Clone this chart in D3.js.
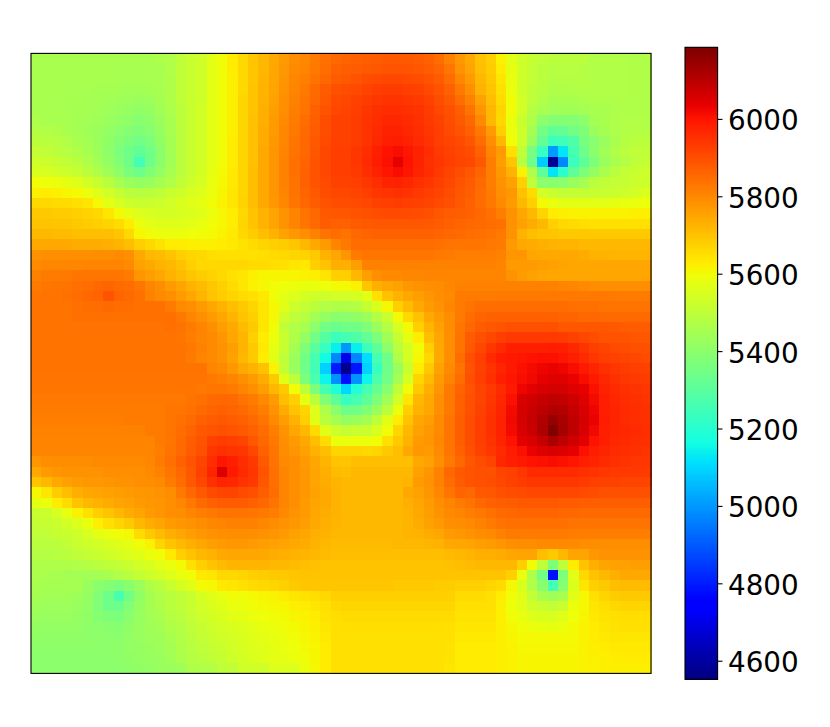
<!DOCTYPE html>
<html><head><meta charset="utf-8">
<script src="https://cdn.jsdelivr.net/npm/d3@7/dist/d3.min.js"></script>
<style>html,body{margin:0;padding:0;background:#fff}svg{display:block}</style>
</head><body><svg id="c" width="830" height="727"></svg>
<script>
const valueRange = [4552, 6185];
const colorbarTicks = [4600, 4800, 5000, 5200, 5400, 5600, 5800, 6000];
// Values, one row per image row (top to bottom), 60 columns each
const heat = [
[5460,5460,5460,5460,5460,5460,5460,5460,5460,5460,5460,5460,5465,5475,5500,5520,5535,5575,5600,5630,5665,5695,5720,5745,5770,5795,5805,5825,5845,5860,5865,5870,5875,5880,5885,5885,5885,5880,5870,5850,5815,5775,5745,5705,5680,5620,5575,5535,5515,5500,5490,5490,5490,5490,5475,5475,5475,5475,5470,5470],
[5460,5460,5460,5460,5460,5460,5460,5460,5460,5460,5460,5460,5460,5475,5500,5520,5535,5575,5600,5630,5665,5695,5720,5750,5775,5800,5810,5830,5850,5870,5875,5880,5885,5890,5895,5895,5895,5890,5880,5865,5835,5785,5755,5710,5685,5630,5580,5535,5510,5495,5485,5485,5485,5480,5475,5475,5475,5475,5470,5470],
[5460,5460,5460,5460,5460,5460,5460,5460,5455,5455,5455,5455,5460,5470,5500,5520,5535,5575,5600,5625,5665,5695,5725,5750,5780,5805,5820,5840,5860,5880,5885,5895,5905,5910,5915,5915,5910,5905,5895,5880,5850,5805,5770,5720,5690,5640,5585,5535,5510,5490,5480,5480,5480,5480,5475,5475,5475,5475,5470,5470],
[5460,5460,5460,5460,5455,5455,5450,5450,5450,5445,5445,5450,5455,5470,5500,5520,5535,5575,5600,5625,5665,5700,5730,5755,5785,5810,5830,5855,5880,5900,5905,5910,5920,5930,5935,5935,5930,5925,5910,5895,5870,5830,5790,5730,5700,5650,5590,5535,5505,5485,5470,5470,5475,5475,5475,5475,5475,5475,5470,5470],
[5460,5460,5460,5455,5455,5450,5450,5445,5440,5435,5430,5435,5450,5470,5500,5520,5535,5575,5600,5625,5670,5700,5730,5760,5790,5815,5835,5860,5885,5910,5915,5925,5935,5945,5950,5950,5945,5940,5925,5905,5885,5850,5815,5760,5710,5660,5600,5540,5500,5475,5460,5460,5460,5465,5470,5470,5470,5470,5470,5470],
[5460,5460,5460,5455,5450,5450,5445,5435,5430,5420,5410,5420,5440,5465,5495,5520,5540,5575,5600,5625,5670,5700,5735,5765,5795,5820,5840,5870,5895,5915,5920,5930,5945,5955,5960,5960,5955,5950,5935,5915,5900,5875,5840,5780,5720,5670,5600,5540,5480,5460,5445,5440,5440,5450,5455,5460,5465,5470,5470,5470],
[5465,5460,5460,5455,5450,5445,5440,5430,5420,5405,5390,5405,5430,5460,5495,5520,5540,5575,5600,5625,5670,5705,5735,5770,5800,5825,5850,5875,5905,5925,5925,5935,5950,5960,5970,5970,5965,5955,5940,5925,5905,5885,5860,5800,5720,5665,5590,5520,5470,5400,5385,5385,5385,5400,5450,5460,5470,5475,5475,5475],
[5480,5475,5470,5460,5450,5440,5430,5415,5400,5385,5375,5390,5420,5455,5490,5520,5540,5575,5600,5625,5670,5705,5740,5770,5805,5830,5855,5880,5905,5925,5925,5935,5950,5965,5980,5980,5970,5960,5945,5930,5910,5895,5870,5830,5770,5680,5590,5530,5450,5350,5310,5320,5350,5375,5430,5450,5465,5475,5480,5480],
[5495,5490,5485,5475,5460,5450,5430,5410,5385,5365,5350,5370,5410,5450,5490,5520,5540,5575,5600,5630,5670,5705,5740,5775,5805,5835,5860,5885,5910,5925,5925,5935,5950,5970,5985,5990,5980,5965,5950,5930,5920,5910,5890,5850,5790,5720,5600,5530,5430,5320,5240,5250,5280,5360,5390,5430,5460,5480,5490,5495],
[5510,5505,5495,5485,5470,5455,5435,5405,5370,5340,5315,5345,5395,5445,5490,5520,5540,5575,5600,5630,5670,5705,5745,5780,5810,5840,5860,5890,5915,5930,5930,5945,5960,5985,6005,6015,6000,5980,5960,5940,5925,5915,5905,5870,5810,5770,5650,5500,5360,5230,5005,5125,5260,5340,5400,5440,5470,5490,5500,5500],
[5530,5525,5515,5505,5490,5470,5445,5415,5380,5340,5255,5340,5395,5445,5490,5520,5540,5575,5600,5630,5670,5705,5745,5780,5815,5845,5865,5895,5915,5930,5930,5945,5965,5990,6010,6040,6005,5980,5955,5945,5930,5920,5915,5885,5820,5765,5695,5490,5340,5085,4580,4975,5240,5310,5370,5430,5460,5480,5500,5510],
[5555,5550,5540,5530,5515,5495,5470,5440,5405,5365,5340,5375,5415,5455,5490,5520,5545,5580,5605,5635,5670,5710,5745,5780,5815,5845,5870,5895,5915,5930,5930,5940,5960,5980,6000,6015,6000,5975,5960,5940,5920,5905,5890,5865,5820,5775,5730,5620,5470,5310,5125,5210,5310,5370,5420,5460,5490,5510,5520,5530],
[5600,5595,5590,5580,5565,5545,5520,5490,5455,5430,5420,5430,5450,5475,5505,5530,5550,5585,5610,5635,5670,5710,5745,5780,5815,5840,5870,5895,5910,5925,5925,5930,5945,5960,5975,5980,5970,5955,5945,5930,5915,5895,5880,5855,5820,5785,5760,5680,5500,5400,5395,5400,5430,5450,5490,5505,5510,5515,5525,5530],
[5625,5630,5625,5615,5605,5590,5565,5540,5515,5495,5485,5490,5500,5520,5535,5550,5565,5590,5615,5640,5670,5710,5745,5780,5810,5840,5865,5885,5905,5915,5915,5920,5930,5945,5950,5955,5950,5940,5930,5920,5905,5890,5875,5850,5825,5790,5775,5705,5660,5540,5520,5510,5510,5510,5515,5520,5525,5530,5545,5560],
[5665,5665,5660,5660,5650,5640,5610,5575,5550,5530,5525,5525,5530,5540,5555,5565,5580,5600,5620,5640,5675,5710,5745,5775,5805,5835,5860,5880,5895,5905,5905,5910,5915,5925,5930,5935,5930,5925,5920,5910,5900,5885,5870,5850,5830,5800,5770,5720,5680,5605,5585,5575,5575,5575,5575,5575,5580,5585,5590,5595],
[5690,5690,5685,5685,5680,5675,5665,5640,5605,5580,5560,5550,5545,5545,5550,5555,5570,5590,5610,5630,5665,5700,5730,5755,5785,5810,5840,5860,5885,5890,5890,5895,5900,5905,5910,5910,5910,5905,5900,5890,5880,5875,5870,5860,5845,5820,5785,5750,5720,5670,5630,5625,5620,5620,5620,5620,5620,5620,5625,5625],
[5700,5700,5695,5695,5690,5685,5680,5670,5660,5630,5590,5575,5570,5565,5565,5575,5585,5600,5610,5630,5670,5700,5730,5755,5785,5810,5835,5855,5880,5870,5870,5880,5885,5890,5890,5890,5890,5890,5885,5880,5870,5865,5860,5855,5850,5845,5785,5760,5740,5720,5680,5665,5660,5655,5650,5650,5650,5650,5650,5650],
[5720,5720,5715,5715,5710,5710,5710,5710,5695,5665,5610,5600,5590,5590,5590,5595,5600,5605,5620,5635,5665,5685,5710,5730,5760,5775,5790,5815,5840,5850,5840,5860,5865,5870,5870,5870,5870,5870,5870,5865,5860,5855,5850,5845,5840,5830,5785,5730,5710,5700,5695,5690,5690,5690,5690,5690,5690,5690,5690,5690],
[5745,5745,5745,5745,5740,5740,5740,5735,5725,5710,5680,5665,5645,5630,5630,5625,5625,5625,5630,5635,5645,5660,5670,5680,5685,5695,5720,5745,5770,5810,5830,5850,5850,5850,5850,5850,5850,5850,5850,5845,5840,5835,5835,5835,5830,5825,5770,5745,5740,5735,5730,5725,5725,5720,5720,5720,5720,5720,5720,5720],
[5785,5790,5790,5790,5790,5790,5795,5795,5800,5790,5745,5720,5715,5700,5680,5670,5665,5655,5650,5650,5650,5650,5655,5660,5665,5670,5675,5690,5730,5750,5780,5825,5835,5835,5835,5835,5835,5835,5835,5830,5825,5820,5820,5820,5820,5815,5780,5780,5750,5745,5745,5745,5745,5740,5730,5730,5725,5725,5725,5725],
[5800,5805,5805,5805,5805,5810,5810,5810,5810,5800,5760,5745,5730,5720,5705,5680,5665,5665,5665,5665,5665,5660,5660,5655,5650,5640,5635,5680,5700,5735,5735,5765,5815,5815,5815,5815,5815,5815,5815,5815,5815,5815,5815,5815,5815,5810,5770,5770,5770,5765,5760,5755,5750,5750,5750,5750,5750,5750,5750,5750],
[5815,5825,5825,5830,5835,5835,5835,5835,5835,5825,5780,5765,5750,5730,5715,5695,5685,5675,5665,5650,5640,5625,5615,5615,5615,5615,5620,5625,5640,5680,5680,5720,5765,5790,5800,5800,5805,5805,5810,5810,5810,5810,5810,5810,5810,5810,5785,5770,5760,5755,5750,5750,5750,5750,5750,5750,5750,5750,5750,5750],
[5825,5835,5840,5840,5845,5850,5860,5865,5855,5850,5835,5810,5795,5770,5755,5730,5715,5695,5680,5660,5640,5620,5610,5600,5595,5590,5585,5585,5595,5605,5605,5620,5695,5735,5750,5760,5775,5785,5790,5795,5805,5815,5815,5815,5815,5815,5815,5815,5815,5815,5815,5810,5805,5800,5795,5790,5790,5790,5790,5790],
[5835,5840,5840,5845,5850,5860,5865,5895,5865,5855,5845,5815,5800,5790,5770,5750,5725,5700,5685,5670,5660,5650,5635,5600,5575,5560,5545,5535,5530,5540,5540,5545,5575,5650,5705,5730,5750,5765,5780,5790,5800,5825,5825,5825,5825,5830,5830,5830,5830,5830,5830,5830,5830,5830,5830,5830,5825,5825,5825,5825],
[5840,5840,5840,5840,5845,5850,5850,5855,5850,5850,5845,5845,5845,5825,5800,5790,5770,5750,5730,5710,5690,5670,5640,5610,5570,5530,5510,5495,5475,5470,5470,5480,5515,5555,5610,5680,5715,5745,5770,5785,5805,5825,5840,5850,5850,5850,5850,5850,5850,5850,5850,5850,5845,5845,5845,5840,5840,5840,5840,5840],
[5840,5840,5840,5840,5845,5845,5845,5845,5845,5845,5845,5845,5845,5845,5830,5810,5790,5770,5750,5725,5700,5680,5640,5610,5535,5500,5485,5445,5415,5395,5400,5410,5435,5480,5520,5605,5665,5705,5745,5770,5795,5825,5850,5865,5870,5870,5870,5870,5870,5870,5870,5865,5865,5860,5860,5855,5855,5855,5855,5855],
[5840,5840,5840,5840,5840,5840,5840,5840,5840,5840,5840,5840,5840,5845,5840,5825,5810,5790,5765,5745,5715,5690,5640,5600,5505,5475,5455,5400,5350,5330,5345,5350,5380,5430,5480,5550,5605,5680,5725,5760,5795,5835,5860,5880,5890,5895,5900,5900,5900,5900,5900,5890,5890,5890,5890,5890,5885,5880,5880,5880],
[5840,5840,5840,5840,5840,5840,5840,5840,5840,5840,5840,5840,5840,5840,5835,5820,5810,5800,5780,5750,5725,5680,5630,5590,5520,5470,5420,5350,5290,5240,5260,5280,5320,5370,5440,5515,5580,5630,5710,5750,5790,5840,5880,5900,5915,5930,5940,5940,5940,5940,5940,5935,5925,5915,5905,5895,5895,5895,5890,5890],
[5840,5840,5840,5840,5840,5840,5840,5840,5840,5840,5840,5840,5840,5840,5840,5830,5815,5800,5785,5765,5725,5690,5635,5580,5520,5450,5375,5300,5230,5140,5000,5140,5240,5310,5400,5490,5545,5600,5680,5745,5790,5840,5885,5915,5945,5965,5985,5985,5985,5985,5990,5985,5970,5950,5930,5920,5910,5905,5900,5900],
[5840,5840,5840,5840,5840,5840,5840,5840,5840,5840,5840,5840,5840,5840,5840,5825,5810,5800,5785,5760,5720,5690,5630,5570,5500,5430,5350,5260,5160,4970,4700,4970,5110,5260,5340,5470,5545,5610,5665,5745,5790,5850,5900,5930,5965,5990,5995,6000,6005,6010,6010,6000,5985,5965,5945,5930,5925,5920,5915,5910],
[5840,5840,5840,5840,5840,5840,5840,5840,5840,5840,5840,5840,5840,5840,5840,5840,5840,5810,5800,5775,5745,5730,5705,5620,5510,5430,5345,5255,5090,4800,4570,4790,5090,5230,5340,5430,5520,5630,5690,5760,5800,5840,5895,5925,5950,5975,5995,6010,6020,6030,6035,6030,6015,5995,5975,5955,5945,5935,5930,5925],
[5835,5835,5835,5835,5835,5835,5835,5835,5835,5835,5835,5835,5835,5835,5835,5835,5835,5830,5820,5810,5790,5770,5740,5690,5570,5500,5370,5270,5150,4990,4780,4990,5150,5270,5350,5450,5550,5670,5715,5770,5810,5850,5900,5930,5955,5985,6000,6015,6025,6040,6050,6050,6035,6015,5995,5970,5955,5945,5940,5935],
[5835,5835,5835,5835,5835,5835,5835,5835,5835,5835,5835,5835,5835,5835,5835,5835,5830,5835,5835,5825,5810,5790,5765,5720,5690,5600,5500,5370,5260,5190,5100,5190,5260,5320,5390,5500,5600,5690,5735,5780,5830,5865,5895,5920,5940,5965,5995,6030,6045,6060,6065,6065,6050,6040,6010,5980,5965,5955,5950,5945],
[5830,5830,5830,5830,5830,5830,5830,5830,5830,5830,5830,5830,5830,5830,5830,5840,5845,5855,5860,5855,5840,5825,5800,5770,5710,5680,5580,5490,5380,5310,5230,5260,5310,5370,5440,5540,5640,5720,5745,5790,5830,5870,5900,5920,5945,5970,6010,6060,6070,6085,6095,6090,6075,6050,6020,5985,5970,5960,5955,5950],
[5825,5825,5825,5825,5825,5825,5825,5825,5825,5825,5825,5825,5825,5835,5835,5845,5855,5865,5870,5865,5855,5840,5820,5785,5740,5700,5670,5560,5470,5400,5340,5350,5380,5430,5490,5590,5680,5730,5750,5790,5830,5870,5900,5925,5950,5975,6020,6065,6080,6100,6115,6110,6085,6060,6030,5985,5975,5965,5960,5955],
[5820,5820,5820,5820,5820,5820,5820,5820,5820,5825,5825,5825,5825,5835,5845,5855,5870,5880,5885,5880,5870,5855,5835,5800,5765,5730,5680,5570,5490,5450,5420,5430,5450,5500,5570,5630,5700,5750,5765,5800,5835,5875,5905,5930,5955,5980,6025,6065,6085,6115,6150,6125,6095,6065,6035,5990,5975,5965,5960,5955],
[5815,5815,5815,5815,5815,5815,5815,5815,5815,5815,5815,5825,5825,5840,5850,5865,5885,5895,5900,5895,5885,5870,5850,5820,5785,5750,5720,5660,5570,5530,5510,5520,5525,5550,5600,5670,5720,5760,5775,5800,5835,5875,5905,5930,5955,5980,6020,6060,6080,6120,6180,6130,6095,6060,6025,5985,5975,5970,5965,5960],
[5810,5810,5810,5810,5810,5810,5810,5810,5810,5810,5810,5810,5825,5835,5855,5875,5895,5925,5935,5930,5920,5890,5860,5830,5790,5770,5745,5710,5660,5590,5590,5590,5590,5600,5650,5690,5730,5770,5780,5805,5835,5875,5905,5930,5950,5975,6005,6045,6060,6085,6125,6095,6070,6045,6005,5985,5970,5965,5960,5955],
[5810,5810,5810,5810,5810,5810,5810,5810,5810,5810,5810,5810,5820,5840,5855,5880,5900,5945,5955,5950,5945,5915,5870,5835,5795,5780,5760,5730,5710,5670,5670,5670,5665,5670,5690,5710,5745,5775,5770,5800,5835,5870,5900,5925,5945,5965,5990,6010,6035,6050,6060,6055,6040,6010,5990,5975,5965,5960,5955,5950],
[5780,5790,5795,5795,5795,5795,5800,5800,5800,5800,5800,5805,5825,5845,5870,5895,5920,5960,6000,5985,5960,5940,5885,5840,5800,5790,5770,5750,5725,5700,5695,5710,5710,5710,5710,5710,5710,5745,5760,5790,5825,5860,5890,5905,5920,5970,5985,5995,6005,6010,6015,6010,6000,5985,5975,5965,5955,5950,5945,5945],
[5745,5770,5780,5785,5785,5785,5785,5790,5790,5790,5790,5800,5815,5835,5860,5890,5925,5975,6055,5995,5965,5945,5895,5845,5810,5790,5775,5755,5735,5715,5710,5720,5720,5720,5720,5720,5720,5760,5780,5815,5860,5885,5895,5900,5900,5920,5925,5945,5965,5965,5965,5965,5965,5955,5950,5945,5940,5940,5940,5940],
[5700,5720,5745,5760,5770,5775,5775,5780,5785,5785,5790,5795,5800,5825,5850,5885,5915,5955,5975,5970,5950,5940,5890,5845,5810,5790,5775,5755,5740,5725,5720,5720,5720,5720,5720,5720,5725,5770,5785,5815,5850,5880,5895,5900,5905,5915,5925,5935,5945,5945,5945,5945,5945,5940,5930,5925,5925,5920,5920,5920],
[5610,5640,5685,5710,5735,5750,5755,5760,5765,5770,5775,5780,5785,5795,5830,5860,5885,5910,5920,5920,5910,5900,5875,5850,5810,5790,5775,5760,5745,5730,5720,5720,5720,5720,5720,5720,5745,5760,5780,5805,5835,5865,5860,5885,5890,5900,5905,5910,5915,5915,5915,5915,5915,5910,5905,5900,5900,5900,5900,5900],
[5580,5590,5630,5660,5700,5720,5730,5740,5755,5760,5770,5775,5780,5790,5805,5830,5855,5870,5880,5880,5880,5870,5860,5840,5810,5790,5770,5755,5745,5730,5720,5720,5720,5720,5720,5720,5735,5750,5770,5790,5810,5825,5840,5860,5870,5875,5880,5885,5885,5885,5885,5880,5880,5875,5875,5875,5875,5875,5875,5875],
[5520,5525,5550,5585,5620,5650,5680,5700,5720,5740,5755,5770,5780,5790,5795,5810,5820,5830,5840,5840,5840,5835,5830,5820,5800,5785,5770,5750,5740,5730,5720,5720,5720,5720,5720,5720,5730,5745,5765,5785,5800,5810,5820,5830,5845,5855,5860,5865,5865,5865,5865,5860,5860,5855,5855,5855,5855,5855,5855,5855],
[5510,5515,5525,5540,5560,5590,5625,5650,5670,5690,5720,5740,5755,5770,5780,5785,5795,5805,5810,5815,5815,5815,5805,5795,5785,5775,5765,5745,5735,5725,5720,5720,5720,5720,5720,5720,5725,5740,5760,5770,5790,5795,5800,5815,5825,5840,5845,5845,5845,5845,5845,5845,5840,5840,5840,5840,5840,5840,5840,5840],
[5500,5505,5515,5520,5535,5550,5575,5590,5600,5610,5660,5690,5715,5735,5750,5765,5775,5785,5790,5795,5795,5790,5785,5780,5770,5760,5750,5735,5730,5720,5720,5720,5720,5720,5720,5720,5725,5730,5740,5750,5770,5775,5785,5795,5800,5815,5825,5825,5825,5825,5825,5825,5820,5820,5820,5820,5820,5820,5820,5820],
[5490,5490,5495,5505,5520,5530,5540,5555,5570,5580,5600,5620,5670,5700,5720,5735,5750,5765,5770,5775,5775,5770,5765,5760,5755,5745,5740,5730,5720,5715,5715,5715,5715,5715,5715,5720,5720,5720,5725,5730,5745,5750,5755,5765,5770,5780,5790,5795,5795,5800,5800,5800,5800,5795,5795,5795,5795,5795,5795,5795],
[5480,5480,5485,5490,5500,5510,5520,5535,5545,5560,5570,5590,5600,5635,5680,5700,5720,5730,5745,5750,5750,5750,5745,5740,5735,5730,5725,5720,5715,5710,5710,5710,5710,5710,5710,5710,5710,5710,5710,5710,5715,5720,5725,5735,5735,5740,5750,5755,5755,5710,5690,5720,5755,5755,5775,5785,5785,5785,5785,5785],
[5470,5470,5470,5470,5475,5480,5490,5500,5510,5525,5540,5555,5575,5590,5605,5650,5680,5700,5715,5725,5725,5725,5725,5720,5720,5715,5710,5705,5700,5700,5700,5700,5700,5700,5700,5700,5700,5700,5700,5700,5705,5710,5715,5720,5720,5720,5720,5680,5600,5500,5370,5500,5630,5700,5735,5755,5760,5760,5765,5765],
[5465,5460,5455,5450,5450,5445,5450,5460,5475,5490,5510,5530,5545,5565,5585,5600,5635,5640,5665,5665,5670,5680,5685,5690,5690,5695,5700,5700,5700,5700,5700,5700,5700,5700,5700,5700,5700,5700,5700,5700,5700,5700,5700,5700,5700,5700,5680,5590,5470,5350,4780,5370,5570,5665,5700,5720,5735,5745,5745,5745],
[5460,5450,5450,5450,5450,5430,5400,5385,5370,5395,5430,5470,5490,5520,5545,5570,5605,5610,5635,5640,5650,5660,5665,5670,5680,5690,5695,5695,5695,5695,5695,5695,5695,5695,5695,5690,5690,5690,5690,5685,5685,5680,5680,5680,5670,5660,5610,5555,5475,5395,5260,5390,5555,5640,5680,5690,5710,5715,5715,5715],
[5450,5445,5445,5445,5435,5420,5380,5340,5265,5350,5410,5450,5475,5490,5505,5520,5550,5570,5585,5600,5600,5605,5615,5620,5630,5640,5645,5655,5665,5680,5680,5680,5680,5680,5680,5680,5680,5680,5680,5680,5680,5660,5660,5660,5650,5630,5600,5570,5510,5460,5440,5460,5570,5610,5650,5670,5685,5690,5690,5690],
[5440,5435,5435,5435,5425,5415,5380,5340,5340,5380,5420,5450,5470,5490,5500,5520,5540,5555,5570,5585,5590,5600,5605,5610,5615,5625,5630,5640,5650,5665,5670,5670,5670,5670,5670,5670,5670,5670,5670,5670,5670,5650,5650,5650,5650,5625,5595,5570,5535,5520,5510,5525,5590,5610,5640,5655,5665,5670,5670,5670],
[5430,5425,5425,5425,5420,5410,5390,5375,5370,5395,5425,5445,5460,5480,5490,5510,5530,5545,5555,5570,5575,5590,5595,5600,5605,5615,5620,5630,5645,5655,5660,5660,5660,5660,5660,5660,5660,5660,5660,5660,5660,5645,5645,5645,5645,5625,5600,5585,5565,5555,5550,5570,5595,5615,5635,5645,5650,5655,5655,5655],
[5420,5415,5415,5415,5415,5405,5400,5395,5390,5410,5425,5440,5450,5470,5480,5500,5515,5530,5545,5555,5560,5575,5585,5590,5600,5605,5615,5625,5640,5650,5655,5655,5655,5655,5655,5655,5655,5655,5655,5655,5650,5640,5640,5640,5640,5625,5610,5600,5590,5585,5580,5590,5605,5620,5630,5640,5645,5650,5650,5650],
[5410,5410,5410,5410,5410,5405,5405,5400,5400,5415,5425,5435,5440,5460,5475,5490,5510,5525,5535,5545,5555,5565,5575,5585,5590,5600,5610,5620,5635,5650,5650,5650,5650,5650,5650,5650,5650,5650,5650,5650,5650,5635,5635,5635,5635,5625,5615,5605,5605,5605,5605,5605,5605,5620,5630,5635,5640,5640,5640,5640],
[5405,5405,5405,5405,5405,5405,5405,5405,5405,5415,5420,5430,5435,5450,5470,5485,5500,5515,5525,5540,5550,5560,5570,5580,5585,5595,5605,5615,5630,5650,5650,5650,5650,5650,5650,5650,5650,5650,5650,5650,5645,5630,5630,5630,5630,5625,5620,5610,5610,5610,5610,5610,5610,5620,5625,5630,5635,5635,5635,5635],
[5400,5400,5400,5400,5400,5400,5400,5400,5405,5410,5420,5425,5430,5445,5465,5480,5490,5505,5515,5530,5545,5555,5565,5575,5580,5590,5600,5612,5630,5650,5650,5650,5650,5650,5650,5650,5650,5650,5650,5650,5645,5630,5630,5630,5630,5625,5620,5615,5615,5615,5615,5615,5615,5620,5625,5625,5630,5630,5630,5630],
[5400,5400,5400,5400,5400,5400,5400,5400,5400,5405,5410,5415,5430,5430,5435,5470,5470,5475,5500,5505,5535,5535,5535,5560,5560,5560,5590,5610,5630,5650,5650,5650,5650,5650,5650,5650,5650,5650,5650,5650,5640,5630,5630,5630,5630,5625,5620,5615,5615,5615,5615,5615,5615,5620,5620,5625,5625,5625,5625,5625]
];

// matplotlib "jet" as a piecewise-linear colour table
const jetR = d3.scaleLinear().domain([0,0.35,0.66,0.89,1]).range([0,0,1,1,0.5]);
const jetG = d3.scaleLinear().domain([0,0.125,0.375,0.64,0.91,1]).range([0,0,1,1,0,0]);
const jetB = d3.scaleLinear().domain([0,0.11,0.34,0.65,1]).range([0.5,1,1,0,0]);
const jet = t => d3.rgb(255*jetR(t), 255*jetG(t), 255*jetB(t)).formatHex();
const norm = d3.scaleLinear().domain(valueRange).range([0,1]).clamp(true);
const color = v => jet(norm(v));

const svg = d3.select('#c');
const idx = d3.range(heat.length);
const x = d3.scaleBand().domain(idx).range([31, 651]);
const y = d3.scaleBand().domain(idx).range([53.4, 673.4]);

const cells = svg.append('g').attr('shape-rendering','crispEdges');
heat.forEach((row, r) => {
  cells.selectAll(null).data(row).enter().append('rect')
    .attr('x', (d, c) => x(c)).attr('y', y(r))
    .attr('width', x.bandwidth() + 0.5).attr('height', y.bandwidth() + 0.5)
    .attr('fill', d => color(d));
});
svg.append('rect').attr('x',31).attr('y',53.4).attr('width',620).attr('height',620)
  .attr('fill','none').attr('stroke','#000').attr('stroke-width',1.1);

// Colour bar
const cbY = d3.scaleLinear().domain(valueRange).range([679.3, 47.3]);
const levels = d3.range(256).map(i => valueRange[0] + (valueRange[1]-valueRange[0]) * i / 255);
const lh = (cbY.range()[0]-cbY.range()[1]) / 256;
svg.append('g').attr('shape-rendering','crispEdges').selectAll('rect').data(levels).enter().append('rect')
  .attr('x',685).attr('width',32.6).attr('height',lh+0.6)
  .attr('y',(d,i)=>cbY.range()[0]-(i+1)*lh)
  .attr('fill',d=>color(d));
svg.append('rect').attr('x',685).attr('y',47.3).attr('width',32.6).attr('height',632)
  .attr('fill','none').attr('stroke','#000').attr('stroke-width',1.1);
const axis = svg.append('g').attr('transform','translate(717.6,0)')
  .call(d3.axisRight(cbY).tickValues(colorbarTicks).tickSize(4.9).tickPadding(5.5).tickFormat(d3.format('d')));
axis.select('.domain').remove();
axis.selectAll('line').attr('stroke','#000').attr('stroke-width',1.1);
axis.selectAll('text').attr('dy','0.395em').attr('fill','#000').style('font-family','"DejaVu Sans"').style('font-size','27.8px');
</script></body></html>
